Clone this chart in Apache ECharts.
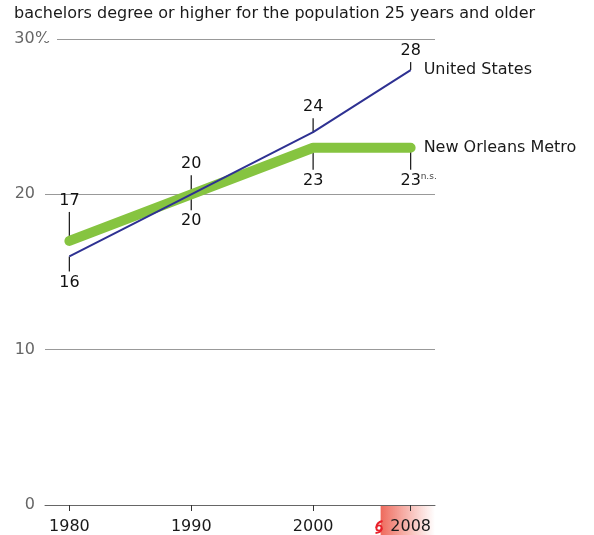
<!DOCTYPE html>
<html><head><meta charset="utf-8">
<script src="https://cdn.jsdelivr.net/npm/echarts@6/dist/echarts.min.js"></script>
<style>html,body{margin:0;padding:0;background:#fff}#c{width:594px;height:535px}</style>
</head><body><div id="c"></div>
<script>
var titleText = 'bachelors degree or higher for the population 25 years and older';
var years = [1980, 1990, 2000, 2008];
var usValues = [16, 20, 24, 28];
var noValues = [17, 20, 23, 23];
var yTicks = [0, 10, 20, 30];
var seriesNames = ['United States', 'New Orleans Metro'];
var noNotes = ['', '', '', 'n.s.'];

// label placement: +1 above, -1 below; leader lengths in px
var usSide = [-1, 1, 1, 1], usLen = [15, 19, 14, 8];
var noSide = [1, -1, -1, -1], noLen = [29, 16, 22, 22];

var FONT = 'DejaVu Sans';
var chart = echarts.init(document.getElementById('c'));

function leaderData(vals, side, len, notes) {
  return years.map(function (y, i) { return [y, vals[i], side[i], len[i], notes ? notes[i] : '']; });
}
var leaders = leaderData(usValues, usSide, usLen, null).concat(leaderData(noValues, noSide, noLen, noNotes));

chart.setOption({
  animation: false,
  title: { text: titleText, left: 9, top: 1, textStyle: { fontSize: 16, fontWeight: 'normal', color: '#1a1a1a', fontFamily: FONT } },
  grid: { left: 45, right: 159, top: 39, bottom: 30 },
  xAxis: {
    type: 'value', min: 1978, max: 2010,
    axisLine: { show: true, lineStyle: { color: '#666', width: 1 } },
    axisTick: { show: true, customValues: years, length: 6, lineStyle: { color: '#333', width: 1 } },
    axisLabel: { customValues: years, color: '#1a1a1a', fontSize: 16, fontFamily: FONT, margin: 14, formatter: function (v) { return String(v); } },
    splitLine: { show: false }
  },
  yAxis: {
    type: 'value', min: 0, max: 30, interval: 10,
    axisLine: { show: false }, axisTick: { show: false },
    axisLabel: {
      align: 'left', margin: 31, color: '#666', fontSize: 16, fontFamily: FONT,
      formatter: function (v) { return v === 30 ? '{n|' + v + '}{p|%}' : '{n|' + v + '}'; },
      rich: { n: { width: 21, align: 'right', color: '#666', fontSize: 16, fontFamily: FONT }, p: { color: '#666', fontSize: 16, fontFamily: FONT } }
    },
    splitLine: { show: true, lineStyle: { color: '#999', width: 1 } }
  },
  series: [
    {
      type: 'custom', z: 1, silent: true,
      data: leaders,
      renderItem: function (params, api) {
        var p = api.coord([api.value(0), api.value(1)]);
        var side = api.value(2), len = api.value(3);
        var note = leaders[params.dataIndex][4];
        var endY = p[1] - side * len;
        var ty = endY - side * 11;
        var label = String(api.value(1));
        var children = [
          { type: 'line', shape: { x1: p[0], y1: p[1], x2: p[0], y2: endY }, style: { stroke: '#222', lineWidth: 1.3 } },
          { type: 'text', style: { text: label, x: p[0], y: ty, fill: '#111', font: '16px "' + FONT + '"', textAlign: 'center', textVerticalAlign: 'middle', align: 'center', verticalAlign: 'middle' } }
        ];
        if (note) {
          children.push({ type: 'text', style: { text: note, x: p[0] + 10, y: ty - 4, fill: '#444', font: '9px "' + FONT + '"', textAlign: 'left', textVerticalAlign: 'middle', align: 'left', verticalAlign: 'middle' } });
        }
        return { type: 'group', children: children };
      }
    },
    {
      name: seriesNames[1], type: 'line', z: 3, showSymbol: false, symbol: 'none',
      data: years.map(function (y, i) { return [y, noValues[i]]; }),
      lineStyle: { color: '#86c440', width: 10, cap: 'round', join: 'round' },
      endLabel: { show: true, formatter: '{a}', distance: 13, color: '#1a1a1a', fontSize: 16, fontFamily: FONT }
    },
    {
      name: seriesNames[0], type: 'line', z: 4, showSymbol: false, symbol: 'none',
      data: years.map(function (y, i) { return [y, usValues[i]]; }),
      lineStyle: { color: '#2e3192', width: 2 },
      endLabel: { show: true, formatter: '{a}', distance: 13, color: '#1a1a1a', fontSize: 16, fontFamily: FONT }
    }
  ]
});

var p30 = chart.convertToPixel({ gridIndex: 0 }, [1978, 30]);
var p0 = chart.convertToPixel({ gridIndex: 0 }, [2010, 0]);
var p2008 = chart.convertToPixel({ gridIndex: 0 }, [2008, 0]);
var hx = p2008[0] - 30;
var cx = hx - 1.6, cy = p0[1] + 23;
var RED = '#e8202a';
chart.setOption({
  graphic: [
    { type: 'rect', z: 100, shape: { x: p30[0] - 1, y: p30[1] - 2, width: 13, height: 4 }, style: { fill: '#fff' } },
    { type: 'rect', z: -1, shape: { x: hx, y: p0[1] + 1, width: p0[0] - hx, height: 40 },
      style: { fill: new echarts.graphic.LinearGradient(0, 0, 1, 0, [{ offset: 0, color: '#ee6a5c' }, { offset: 1, color: 'rgba(255,255,255,0.9)' }]) } },
    { type: 'circle', z: 101, shape: { cx: cx, cy: cy, r: 2.7 }, style: { fill: 'none', stroke: RED, lineWidth: 1.8 } },
    { type: 'bezierCurve', z: 101, shape: { x1: cx - 2.7, y1: cy, cpx1: cx - 2.8, cpy1: cy - 5.5, x2: cx + 3.5, y2: cy - 7 }, style: { fill: 'none', stroke: RED, lineWidth: 1.8 } },
    { type: 'bezierCurve', z: 101, shape: { x1: cx + 2.7, y1: cy, cpx1: cx + 2.8, cpy1: cy + 4.5, x2: cx - 3.5, y2: cy + 5 }, style: { fill: 'none', stroke: RED, lineWidth: 1.8 } }
  ]
});
</script></body></html>
